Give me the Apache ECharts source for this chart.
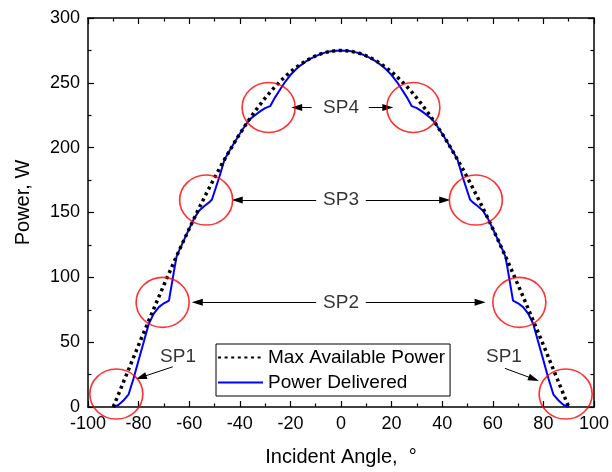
<!DOCTYPE html>
<html>
<head>
<meta charset="utf-8">
<script src="https://cdn.jsdelivr.net/npm/echarts@6/dist/echarts.min.js"></script>
<style>html,body{margin:0;padding:0;background:#fff}#c{width:612px;height:472px}</style>
</head>
<body>
<div id="c"></div>
<script>
// ---- data ----
const maxAngle = [-90,-88,-86,-84,-82,-80,-78,-76,-74,-72,-70,-68,-66,-64,-62,-60,-58,-56,-54,-52,-50,-48,-46,-44,-42,-40,-38,-36,-34,-32,-30,-28,-26,-24,-22,-20,-18,-16,-14,-12,-10,-8,-6,-4,-2,0,
  2,4,6,8,10,12,14,16,18,20,22,24,26,28,30,32,34,36,38,40,42,44,46,48,50,52,54,56,58,60,62,64,66,68,70,72,74,76,78,80,82,84,86,88,90];
const maxPower = [0,9.6,19.2,28.7,38.3,47.8,57.2,66.5,75.8,85.0,94.1,103.0,111.9,120.6,129.1,137.5,145.7,153.8,161.6,169.3,176.8,184.0,191.0,197.8,204.4,210.7,216.7,222.5,228.0,233.2,238.2,242.8,247.2,251.2,255.0,258.4,261.5,264.3,266.8,269.0,270.8,272.3,273.5,274.3,274.8,275,
  274.8,274.3,273.5,272.3,270.8,269.0,266.8,264.3,261.5,258.4,255.0,251.2,247.2,242.8,238.2,233.2,228.0,222.5,216.7,210.7,204.4,197.8,191.0,184.0,176.8,169.3,161.6,153.8,145.7,137.5,129.1,120.6,111.9,103.0,94.1,85.0,75.8,66.5,57.2,47.8,38.3,28.7,19.2,9.6,0];

const deliveredAngle = [-90,-88,-86,-84,-82,-80,-78,-76,-74,-72,-70,-68,-66,-65,-64,-62,-60,-58,-56,-54,-52,-51,-48,-46,-44,-42,-40,-38,-36,-34,-32,-30,-28,-26,-24,-22,-20,-18,-16,-14,-12,-10,-8,-6,-4,-2,0,
  2,4,6,8,10,12,14,16,18,20,22,24,26,28,30,32,34,36,38,40,42,44,46,48,51,52,54,56,58,60,62,64,65,66,68,70,72,74,76,78,80,82,84,86,88,90];
const deliveredPower = [0,1.5,5,9.5,22,36,50,64,72,77,80,82,105,116,120.6,129.1,137.5,145.7,151.5,155,158,160,178,191,197.8,204.4,210.7,216.7,222,225,228,230.5,232,239,245,251,256,260,263.5,266.3,268.7,270.6,272.2,273.5,274.3,274.8,275,
  274.8,274.3,273.5,272.2,270.6,268.7,266.3,263.5,260,256,251,245,239,232,230.5,228,225,222,216.7,210.7,204.4,197.8,191,178,160,158,155,151.5,145.7,137.5,129.1,120.6,116,105,82,80,77,72,64,50,36,22,9.5,5,1.5,0];

const circleX = [-88.8,-70.5,-53.3,-28.6,28.6,53.3,70.5,88.8];
const circleY = [10,80.7,159.6,231,231,159.6,80.7,10];

const noteText = ['SP4','SP3','SP2','SP1','SP1'];
const noteX = [0,0,0,-64.4,64.4];
const noteY = [231,159.6,80.7,39,39];

const arrowFromX = [-11.6,11,-9.8,9.8,-9.8,9.8,-66.5,64.8];
const arrowFromY = [231,231,159.6,159.6,80.7,80.7,31,29.8];
const arrowToX   = [-17.5,18.5,-41,41,-56.8,55,-79,76.2];
const arrowToY   = [231,231,159.6,159.6,80.7,80.7,22.9,21.6];

const xTicks = {min:-100, max:100, interval:20};
const yTicks = {min:0, max:300, interval:50};

// ---- chart ----
const FONT = '"Liberation Sans", Arial, Helvetica, sans-serif';
const chart = echarts.init(document.getElementById('c'), null, {renderer:'canvas'});

const axisCommon = {
  axisLine:{show:true, onZero:false, lineStyle:{color:'#000', width:1.5}},
  axisTick:{show:true, inside:true, length:6, lineStyle:{color:'#000', width:1.2}},
  minorTick:{show:true, splitNumber:2, length:3.5, lineStyle:{color:'#000', width:1.2}},
  splitLine:{show:false}
};

const arrows = arrowFromX.map((x,i)=>[{coord:[x, arrowFromY[i]]},{coord:[arrowToX[i], arrowToY[i]]}]);

chart.setOption({
  animation:false,
  backgroundColor:'#fff',
  textStyle:{fontFamily:FONT},
  grid:{left:88, right:14, top:18, bottom:65},
  legend:{
    orient:'vertical', left:216, top:344,
    data:['Max Available Power','Power Delivered'],
    itemWidth:45, itemHeight:14, itemGap:6,
    padding:[4,5,4,1],
    borderColor:'#000', borderWidth:1,
    itemStyle:{opacity:0},
    textStyle:{fontSize:19, color:'#000', fontFamily:FONT}
  },
  xAxis:[
    Object.assign({type:'value', position:'bottom', min:xTicks.min, max:xTicks.max, interval:xTicks.interval,
      name:'Incident Angle,  °', nameLocation:'middle', nameGap:40,
      nameTextStyle:{fontSize:20, color:'#000', fontFamily:FONT},
      axisLabel:{fontSize:18, color:'#000', margin:8, fontFamily:FONT}}, axisCommon),
    Object.assign({type:'value', position:'top', min:xTicks.min, max:xTicks.max, interval:xTicks.interval,
      axisLabel:{show:false}}, axisCommon)
  ],
  yAxis:[
    Object.assign({type:'value', position:'left', min:yTicks.min, max:yTicks.max, interval:yTicks.interval,
      name:'Power, W', nameLocation:'middle', nameGap:55,
      nameTextStyle:{fontSize:20, color:'#000', fontFamily:FONT, padding:[0,0,0,20]},
      axisLabel:{fontSize:18, color:'#000', margin:8, fontFamily:FONT}}, axisCommon),
    Object.assign({type:'value', position:'right', min:yTicks.min, max:yTicks.max, interval:yTicks.interval,
      axisLabel:{show:false}}, axisCommon)
  ],
  series:[
    {
      name:'Power Delivered', type:'line', symbol:'none', z:3,
      data: deliveredAngle.map((a,i)=>[a, deliveredPower[i]]),
      lineStyle:{color:'#0000ff', width:2},
      itemStyle:{color:'#0000ff'}
    },
    {
      name:'Max Available Power', type:'line', symbol:'none', z:4,
      data: maxAngle.map((a,i)=>[a, maxPower[i]]),
      lineStyle:{color:'#000', width:3.5, type:[3,3.6], cap:'butt'},
      itemStyle:{color:'#000'}
    },
    {
      name:'circles', type:'scatter', z:5, silent:true,
      data: circleX.map((x,i)=>[x, circleY[i]]),
      symbol:'circle', symbolSize:[53,50],
      itemStyle:{color:'rgba(0,0,0,0)', borderColor:'#ff0000', borderWidth:1.6}
    },
    {
      name:'notes', type:'scatter', z:6, silent:true,
      data: noteX.map((x,i)=>({value:[x, noteY[i]], name:noteText[i]})),
      symbolSize:0,
      label:{show:true, position:'inside', formatter:p=>p.name, fontSize:19, color:'#000', fontFamily:FONT},
      markLine:{
        silent:true, animation:false,
        symbol:['none','triangle'], symbolSize:[7,11],
        label:{show:false},
        lineStyle:{color:'#000', width:1, type:'solid'},
        data: arrows
      }
    }
  ]
});
</script>
</body>
</html>
